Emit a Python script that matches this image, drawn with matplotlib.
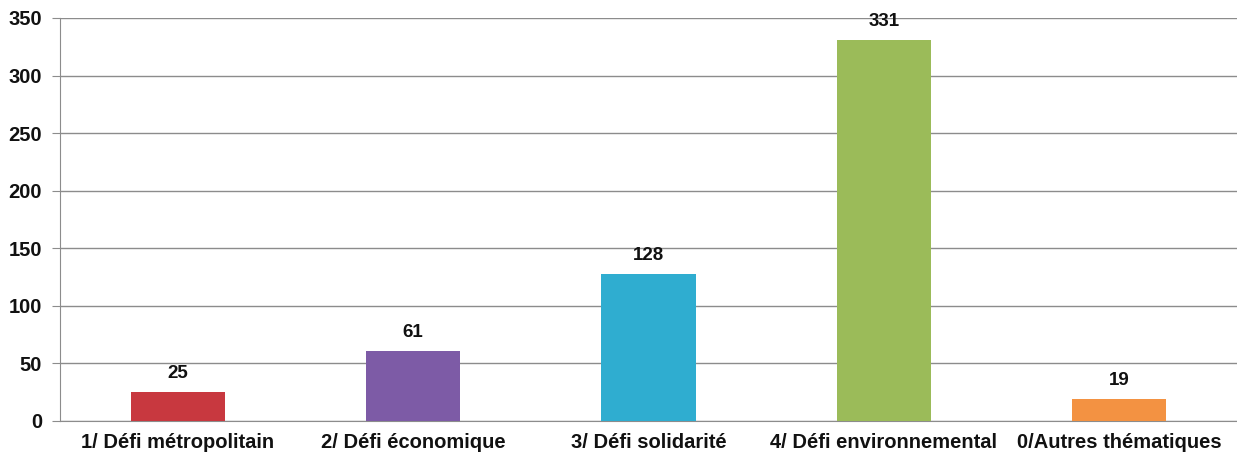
import matplotlib.pyplot as plt
import numpy as np

plt.rcParams['font.family'] = ['Liberation Sans', 'DejaVu Sans']

categories = ['1/ Défi métropolitain', '2/ Défi économique', '3/ Défi solidarité',
              '4/ Défi environnemental', '0/Autres thématiques']
counts = [25, 61, 128, 331, 19]
colors = ['#c8383f', '#7d5ba6', '#2fadd0', '#9bbb59', '#f39242']

fig = plt.figure(figsize=(12.37, 4.58), dpi=100)
ax = fig.add_axes([0.0485, 0.0808, 0.9515, 0.88])

x = np.arange(len(categories))
bars = ax.bar(x, counts, width=0.4, color=colors, zorder=3)

for b, v in zip(bars, counts):
    ax.annotate(str(v), (b.get_x() + b.get_width() / 2, v),
                xytext=(0, 7), textcoords='offset points',
                ha='center', va='bottom', fontsize=13.5, fontweight='bold', color='#111111')

ax.set_xlim(-0.5, len(categories) - 0.5)
ax.set_ylim(0, 350)
ax.set_yticks(np.arange(0, 351, 50))
ax.set_xticks(x)
ax.set_xticklabels(categories)

ax.grid(axis='y', color='#8c8c8c', linewidth=1.0, zorder=0)
for s in ['top', 'right']:
    ax.spines[s].set_visible(False)
ax.spines['left'].set_color('#8c8c8c')
ax.spines['bottom'].set_color('#8c8c8c')

ax.tick_params(axis='y', length=6, color='#8c8c8c', pad=7, labelsize=14.5)
ax.tick_params(axis='x', length=0, pad=9, labelsize=14.5)
for lbl in ax.get_xticklabels() + ax.get_yticklabels():
    lbl.set_fontweight('bold')
    lbl.set_color('#111111')

fig.savefig('out.png', dpi=100)
